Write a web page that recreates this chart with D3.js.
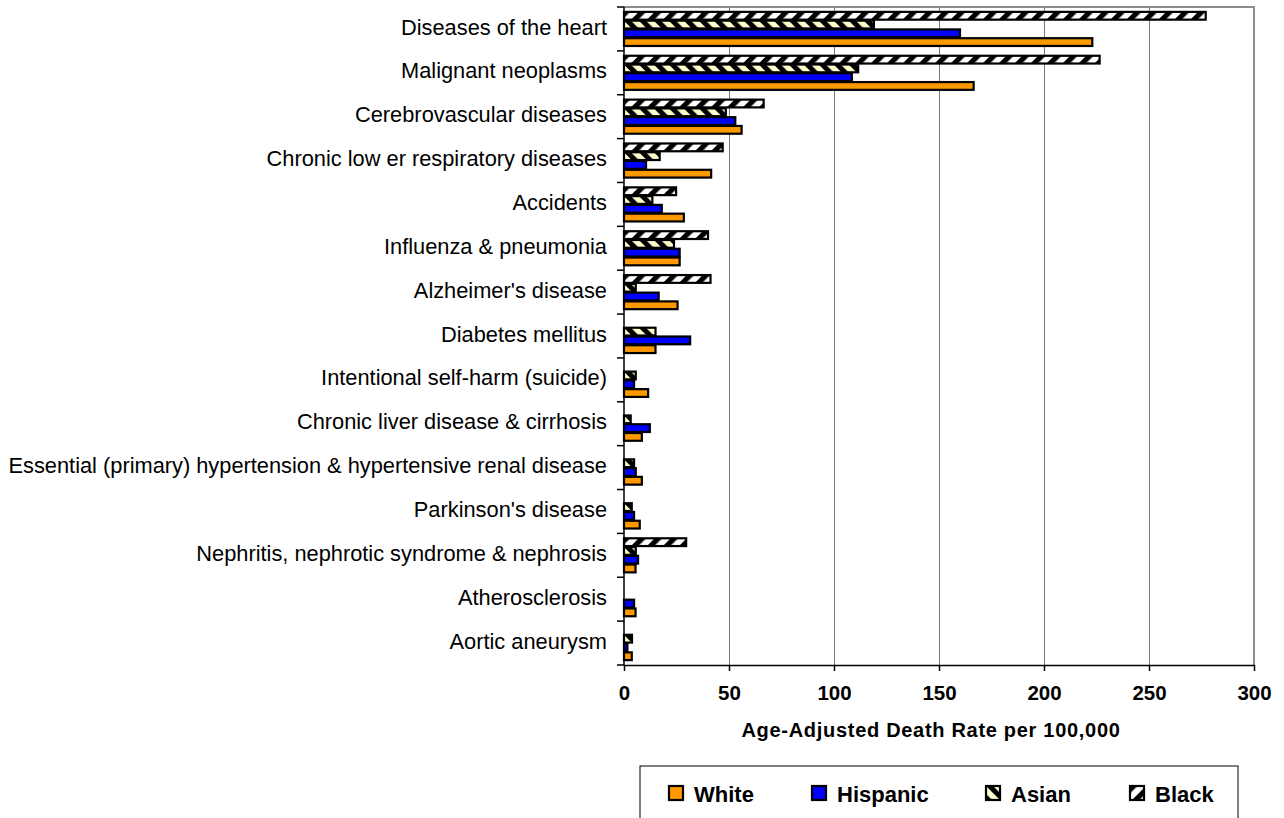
<!DOCTYPE html>
<html>
<head>
<meta charset="utf-8">
<script src="https://cdn.jsdelivr.net/npm/d3@7"></script>
<style>
  body { margin: 0; background: #fff; }
  svg text { font-family: "Liberation Sans", Arial, sans-serif; }
</style>
</head>
<body>
<svg id="chart" width="1284" height="818"></svg>
<script>
// causes of death, top to bottom
var causes = [
  "Diseases of the heart",
  "Malignant neoplasms",
  "Cerebrovascular diseases",
  "Chronic low er respiratory diseases",
  "Accidents",
  "Influenza & pneumonia",
  "Alzheimer's disease",
  "Diabetes mellitus",
  "Intentional self-harm (suicide)",
  "Chronic liver disease & cirrhosis",
  "Essential (primary) hypertension & hypertensive renal disease",
  "Parkinson's disease",
  "Nephritis, nephrotic syndrome & nephrosis",
  "Atherosclerosis",
  "Aortic aneurysm"
];

var white    = [223, 166.5, 56, 41.5, 28.5, 26.5, 25.5, 15, 11.5, 8.5, 8.5, 7.5, 5.5, 5.5, 3.7];
var hispanic = [160, 108.5, 53, 10.5, 18, 26.5, 16.5, 31.5, 4.8, 12.3, 5.6, 4.8, 6.7, 4.8, 1.6];
var asian    = [119, 111.5, 48.5, 17, 13.5, 23.8, 5.6, 15, 5.6, 3.2, 4.8, 3.7, 5.6, null, 3.8];
var black    = [277, 226.5, 66.5, 47, 24.8, 40, 41.2, null, null, null, null, null, 29.6, null, null];

var seriesNames = ["Black", "Asian", "Hispanic", "White"];   // order inside each group, top to bottom
var legendNames = ["White", "Hispanic", "Asian", "Black"];
var xTicks = [0, 50, 100, 150, 200, 250, 300];

var seriesData = { "White": white, "Hispanic": hispanic, "Asian": asian, "Black": black };
var seriesFill = {
  "White": "#ff9900",
  "Hispanic": "#0000ff",
  "Asian": "url(#patAsian)",
  "Black": "url(#patBlack)"
};

var svg = d3.select("#chart");
var plot = { left: 624, right: 1254, top: 7, bottom: 665 };

// hatch patterns
var defs = svg.append("defs");

function hatch(id, bg, angle, period, stripe) {
  var p = defs.append("pattern")
    .attr("id", id)
    .attr("patternUnits", "userSpaceOnUse")
    .attr("width", period)
    .attr("height", 10)
    .attr("patternTransform", "rotate(" + angle + ")");
  p.append("rect").attr("width", period).attr("height", 10).attr("fill", bg);
  p.append("rect").attr("width", stripe).attr("height", 10).attr("fill", "#000");
}
hatch("patBlack", "#ffffff", 45, 11.3, 5.2);
hatch("patAsian", "#ffffcc", -45, 10.6, 5);

var x = d3.scaleLinear().domain([0, 300]).range([plot.left, plot.right]);

var y = d3.scaleBand()
  .domain(causes)
  .range([plot.top, plot.bottom])
  .paddingInner(0.2)
  .paddingOuter(0.1);

var ySub = d3.scaleBand()
  .domain(seriesNames)
  .range([0, y.bandwidth()]);

// gridlines
svg.append("g").selectAll("line")
  .data(xTicks.slice(1, -1))
  .enter().append("line")
  .attr("x1", function (d) { return Math.round(x(d)) + 0.5; })
  .attr("x2", function (d) { return Math.round(x(d)) + 0.5; })
  .attr("y1", plot.top)
  .attr("y2", plot.bottom)
  .attr("stroke", "#777")
  .attr("stroke-width", 1);

// plot border top/right
svg.append("path")
  .attr("d", "M" + plot.left + "," + plot.top + "H" + plot.right + "V" + plot.bottom)
  .attr("fill", "none")
  .attr("stroke", "#8c8c8c")
  .attr("stroke-width", 2);

// bars
var groups = svg.append("g").selectAll("g")
  .data(causes)
  .enter().append("g")
  .attr("transform", function (d) { return "translate(0," + y(d) + ")"; });

groups.selectAll("rect")
  .data(function (d, i) {
    return seriesNames.map(function (s) { return { series: s, value: seriesData[s][i] }; })
      .filter(function (e) { return e.value != null; });
  })
  .enter().append("rect")
  .attr("x", x(0))
  .attr("y", function (d) { return ySub(d.series) + 0.5; })
  .attr("width", function (d) { return x(d.value) - x(0); })
  .attr("height", ySub.bandwidth() - 1)
  .attr("fill", function (d) { return seriesFill[d.series]; })
  .attr("stroke", "#000")
  .attr("stroke-width", 2.2);

// x axis
var xAxis = svg.append("g")
  .attr("transform", "translate(0," + plot.bottom + ")")
  .call(d3.axisBottom(x).tickValues(xTicks).tickSize(6).tickSizeOuter(0));
xAxis.select(".domain").attr("stroke", "#000").attr("stroke-width", 1.5);
xAxis.selectAll(".tick line").attr("stroke", "#000").attr("stroke-width", 1.5);
xAxis.selectAll(".tick text")
  .attr("y", 20)
  .attr("dy", "0.71em")
  .style("font-family", "'Liberation Sans', Arial, sans-serif")
  .style("font-size", "20.5px")
  .style("font-weight", "bold")
  .attr("fill", "#000");

svg.append("text")
  .attr("x", (plot.left + plot.right) / 2 - 8)
  .attr("y", 737)
  .attr("text-anchor", "middle")
  .style("font-size", "20px")
  .style("font-weight", "bold")
  .style("letter-spacing", "0.7px")
  .text("Age-Adjusted Death Rate per 100,000");

// y axis line + ticks at category boundaries
svg.append("line")
  .attr("x1", plot.left).attr("x2", plot.left)
  .attr("y1", plot.top).attr("y2", plot.bottom)
  .attr("stroke", "#000").attr("stroke-width", 1.5);

var bounds = d3.range(causes.length + 1).map(function (i) { return plot.top + i * y.step(); });
svg.append("g").selectAll("line")
  .data(bounds)
  .enter().append("line")
  .attr("x1", plot.left - 7).attr("x2", plot.left)
  .attr("y1", function (d) { return d; })
  .attr("y2", function (d) { return d; })
  .attr("stroke", "#000").attr("stroke-width", 1.5);

svg.append("g").selectAll("text")
  .data(causes)
  .enter().append("text")
  .attr("x", 607)
  .attr("y", function (d) { return y(d) + y.bandwidth() / 2 - 2; })
  .attr("dy", "0.35em")
  .attr("text-anchor", "end")
  .style("font-size", "21.8px")
  .text(function (d) { return d; });

// legend
var legend = svg.append("g");
legend.append("rect")
  .attr("x", 640).attr("y", 766)
  .attr("width", 598).attr("height", 70)
  .attr("fill", "#fff")
  .attr("stroke", "#000")
  .attr("stroke-width", 1);

var legendX = [669, 812, 986, 1130];
var items = legend.selectAll("g.item")
  .data(legendNames)
  .enter().append("g")
  .attr("class", "item")
  .attr("transform", function (d, i) { return "translate(" + legendX[i] + ",786)"; });

items.append("rect")
  .attr("width", 14).attr("height", 14)
  .attr("fill", function (d) { return seriesFill[d]; })
  .attr("stroke", "#000")
  .attr("stroke-width", 2.2);

items.append("text")
  .attr("x", 25)
  .attr("y", 8)
  .attr("dy", "0.35em")
  .style("font-size", "22px")
  .style("font-weight", "bold")
  .text(function (d) { return d; });
</script>
</body>
</html>
